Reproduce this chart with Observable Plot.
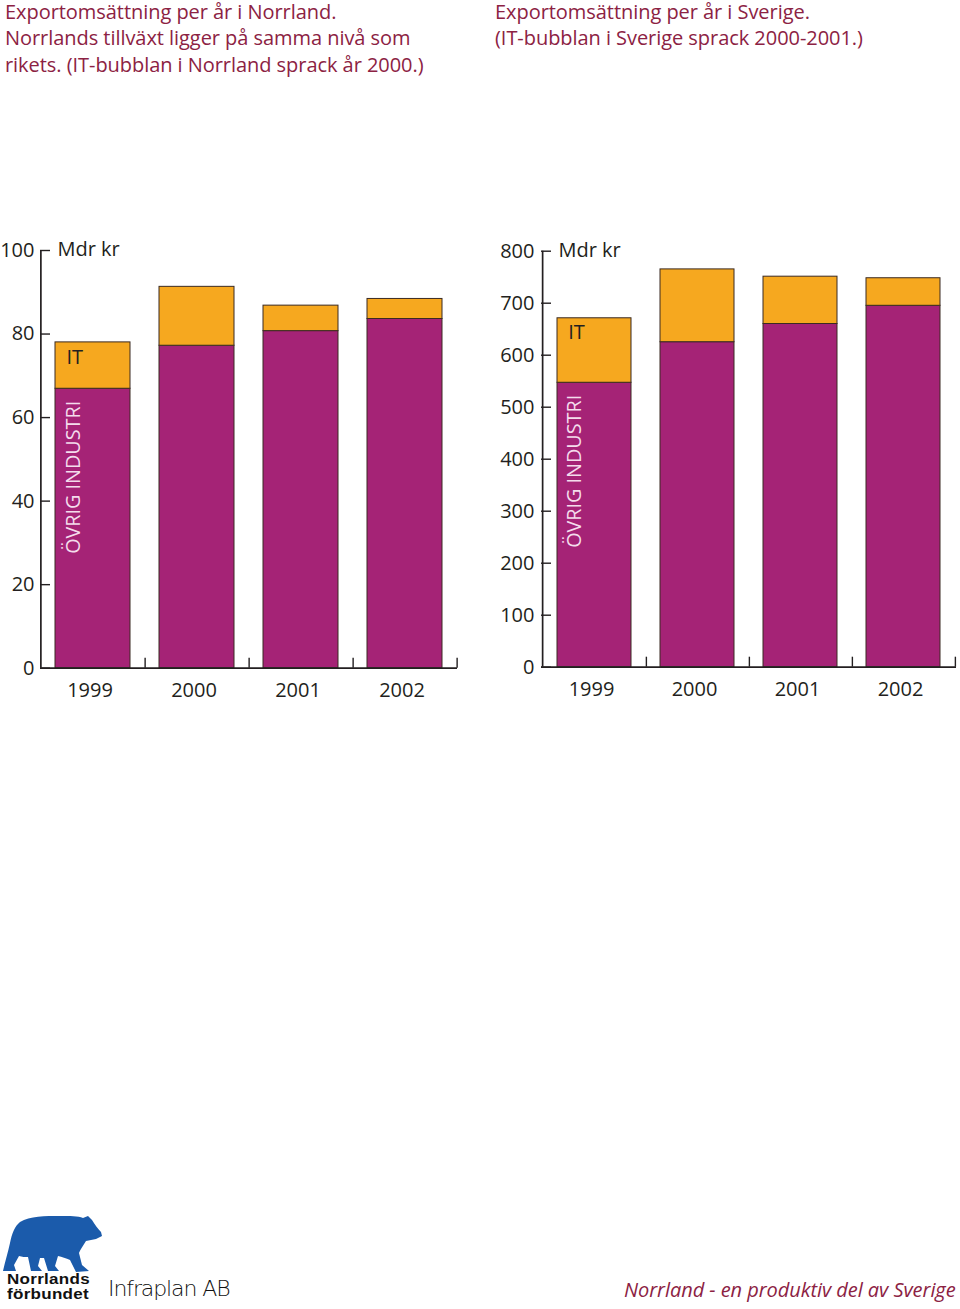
<!DOCTYPE html>
<html><head><meta charset="utf-8">
<script src="https://cdn.jsdelivr.net/npm/d3@7"></script>
<script src="https://cdn.jsdelivr.net/npm/@observablehq/plot@0.6"></script>
<style>
html,body{margin:0;padding:0;background:#fff}
body{width:960px;height:1309px;position:relative;overflow:hidden;font-family:"Open Sans",sans-serif}
.chart{position:absolute;top:0}
.title{position:absolute;top:-1.5px;color:#8c2243;font-size:20px;line-height:26.5px;letter-spacing:-0.05px;white-space:nowrap}
.footer{position:absolute;left:624px;top:1276px;color:#8c2243;font-size:20px;font-style:italic;letter-spacing:-0.05px;white-space:nowrap}
.nf{position:absolute;left:7px;font-family:"Liberation Sans",Arial,sans-serif;font-weight:bold;font-size:17px;line-height:17px;color:#111;letter-spacing:0.3px;white-space:nowrap;transform:scaleY(0.82);transform-origin:left top}
.infra{position:absolute;left:108px;top:1276px;font-family:"DejaVu Sans",sans-serif;font-size:22px;font-weight:200;color:#111;letter-spacing:-1.1px}
</style></head>
<body>
<div id="c1" class="chart" style="left:0"></div>
<div id="c2" class="chart" style="left:480px"></div>
<div class="title" style="left:5px">Exportomsättning per år i Norrland.<br>Norrlands tillväxt ligger på samma nivå som<br>rikets. (IT-bubblan i Norrland sprack år 2000.)</div>
<div class="title" style="left:495px">Exportomsättning per år i Sverige.<br>(IT-bubblan i Sverige sprack 2000-2001.)</div>
<svg style="position:absolute;left:0;top:1210px" width="110" height="64" viewBox="0 1210 110 64">
<path fill="#1b5bab" d="M20,1222 C30,1216 45,1216 60,1216 C70,1216 78,1216 83,1218 L88,1216 L92,1220 C95,1225 98,1229 101,1232 L102,1236 L96,1239 L86,1241 C83,1246 80,1250 79,1253 L82,1265 L89,1271 L76,1272 L70,1260 C66,1258 62,1257 58,1256 L55,1266 L59,1271 L48,1271 L44,1258 L40,1258 L38,1266 L42,1271 L31,1271 L28,1257 C25,1257 22,1257 19,1256 L14,1265 L16,1271 L3,1271 C5,1262 8,1252 10,1243 C12,1233 15,1226 20,1222 Z"/>
</svg>
<div class="nf" style="top:1273px">Norrlands</div>
<div class="nf" style="top:1288px">förbundet</div>
<div class="infra">Infraplan AB</div>
<div class="footer">Norrland - en produktiv del av Sverige</div>
<script>
const years = ["1999", "2000", "2001", "2002"];
const categories = ["Övrig industri", "IT"];
const colors = ["#a52376", "#f6a81f"];
// Norrland (Mdr kr)
const norrlandOvrig = [66.9, 77.2, 80.7, 83.6];
const norrlandIT = [11.1, 14.1, 6.1, 4.8];
const norrlandTicks = [0, 20, 40, 60, 80, 100];
// Sverige (Mdr kr)
const sverigeOvrig = [547, 625, 660, 695];
const sverigeIT = [124, 140, 91, 53];
const sverigeTicks = [0, 100, 200, 300, 400, 500, 600, 700, 800];

function chart({ovrig, it, ticks, marginLeft, marginRight, marginTop, marginBottom, tickPadding}) {
  const rows = years.flatMap((y, i) => [
    {year: y, cat: categories[0], value: ovrig[i]},
    {year: y, cat: categories[1], value: it[i]}
  ]);
  const width = 480, height = 720;
  const yMax = ticks[ticks.length - 1];
  const pi = 0.28, po = 0.14;
  const inner = width - marginLeft - marginRight;
  const innerH = height - marginTop - marginBottom;
  const step = inner / (years.length - pi + 2 * po);
  const bw = step * (1 - pi);
  const ink = "#231f20";
  return Plot.plot({
    width, height, marginLeft, marginRight, marginTop, marginBottom,
    style: {fontFamily: "Open Sans", fontSize: "20px", color: ink, background: "transparent", overflow: "visible"},
    x: {domain: years, paddingInner: pi, paddingOuter: po},
    y: {domain: [0, yMax]},
    color: {domain: categories, range: colors},
    marks: [
      Plot.barY(rows, {x: "year", y: "value", fill: "cat", stroke: "#3b2a22", strokeWidth: 1}),
      Plot.ruleY(ticks, {y: d => d, insetRight: inner - 10, stroke: ink, strokeWidth: 1.4}),
      Plot.ruleY([0], {stroke: ink, strokeWidth: 1.7}),
      Plot.ruleX([years[0]], {x: d => d, y1: 0, y2: yMax, dx: -step / 2, stroke: ink, strokeWidth: 1.7}),
      Plot.ruleX(years, {x: d => d, y1: 0, y2: yMax * 10 / innerH, dx: step / 2, stroke: ink, strokeWidth: 1.4}),
      Plot.axisY({ticks, tickSize: 0, tickPadding, label: null, fill: ink}),
      Plot.axisX({tickSize: 0, tickPadding: 15, label: null, fill: ink, dx: -3}),
      Plot.text(["Mdr kr"], {frameAnchor: "top-left", text: d => d, textAnchor: "start", lineAnchor: "middle", dx: 17, dy: -1, fill: ink}),
      Plot.text(["IT"], {x: () => years[0], y: () => ovrig[0] + it[0], text: d => d, textAnchor: "start", lineAnchor: "top", dx: -bw / 2 + 11, dy: 7, fill: ink}),
      Plot.text(["ÖVRIG INDUSTRI"], {x: () => years[0], y: () => ovrig[0], text: d => d, rotate: -90, textAnchor: "end", lineAnchor: "middle", dx: -bw / 2 + 18, dy: 12, fill: "#f4dcec", fontSize: 19.8})
    ]
  });
}

document.getElementById("c1").appendChild(chart({
  ovrig: norrlandOvrig, it: norrlandIT, ticks: norrlandTicks,
  marginLeft: 40, marginRight: 23, marginTop: 250, marginBottom: 52.3, tickPadding: 6
}));
document.getElementById("c2").appendChild(chart({
  ovrig: sverigeOvrig, it: sverigeIT, ticks: sverigeTicks,
  marginLeft: 61, marginRight: 4, marginTop: 250.7, marginBottom: 53.3, tickPadding: 7
}));
</script>
</body></html>
